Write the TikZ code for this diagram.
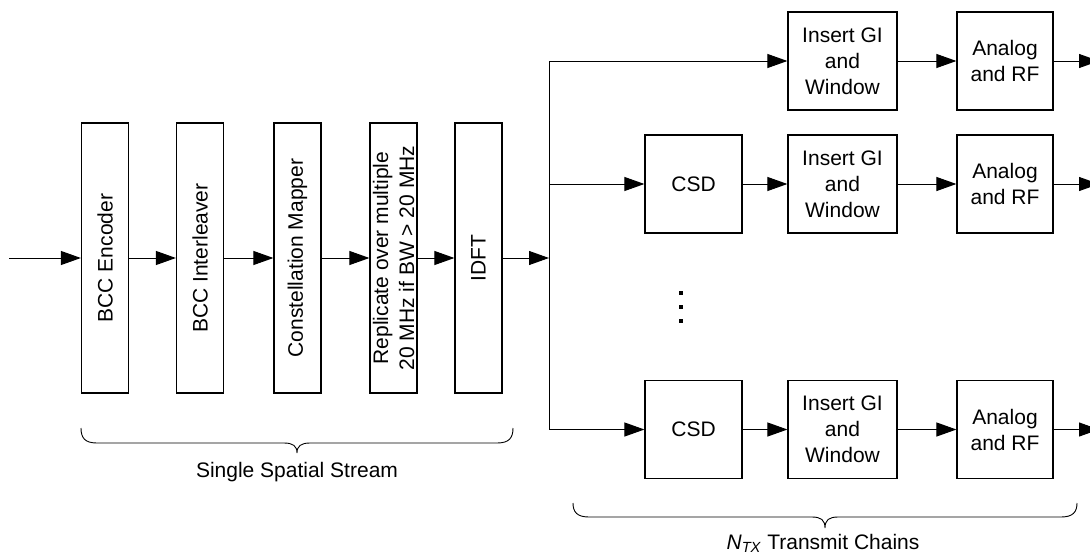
\documentclass[tikz,border=0pt]{standalone}
\usepackage{fontspec}
\setmainfont{Liberation Sans}
\usetikzlibrary{arrows.meta}
\begin{document}
\begin{tikzpicture}[x=1pt,y=-1pt,
  every node/.style={font=\fontsize{21}{26}\selectfont},
  box/.style={draw,line width=1.2pt,inner sep=0pt,align=center},
  vbox/.style={box,rotate=90,minimum width=270pt,minimum height=47pt},
  hbox/.style={box,minimum height=98pt},
  arr/.style={line width=1pt,-{Triangle[length=20pt,width=14pt]}},
  ln/.style={line width=1pt},
  brc/.style={line width=0.9pt}]
\useasboundingbox (0,0) rectangle (1090,555);
\clip (0,0) rectangle (1090,555);
% left chain
\node[vbox] (enc) at (105,258) {BCC Encoder};
\node[vbox] (inter) at (200,258) {BCC Interleaver};
\node[vbox] (const) at (297.5,258) {Constellation Mapper};
\node[vbox] (repl) at (393.5,258) {Replicate over multiple\\20 MHz if BW > 20 MHz};
\node[vbox] (idft) at (478.5,258) {IDFT};
\coordinate (in) at (9,258);
\coordinate (split) at (549,258);
\draw[arr] (in) -- (enc);
\draw[arr] (enc) -- (inter);
\draw[arr] (inter) -- (const);
\draw[arr] (const) -- (repl);
\draw[arr] (repl) -- (idft);
\draw[arr] (idft) -- (split);
% right chains
\node[hbox,minimum width=109pt] (ig1) at (842.5,61) {Insert GI\\and\\Window};
\node[hbox,minimum width=96pt] (an1) at (1005,61) {Analog\\and RF};
\node[hbox,minimum width=97pt] (csd2) at (693.5,184) {CSD};
\node[hbox,minimum width=109pt] (ig2) at (842.5,184) {Insert GI\\and\\Window};
\node[hbox,minimum width=96pt] (an2) at (1005,184) {Analog\\and RF};
\node[hbox,minimum width=97pt] (csd3) at (693.5,429.5) {CSD};
\node[hbox,minimum width=109pt] (ig3) at (842.5,429.5) {Insert GI\\and\\Window};
\node[hbox,minimum width=96pt] (an3) at (1005,429.5) {Analog\\and RF};
\coordinate (t1) at (549,61);
\coordinate (t2) at (549,184);
\coordinate (t3) at (549,429.5);
\coordinate (o1) at (1099,61);
\coordinate (o2) at (1099,184);
\coordinate (o3) at (1099,429.5);
\draw[ln] (t1) -- (t3);
\draw[arr] (t1) -- (ig1);
\draw[arr] (ig1) -- (an1);
\draw[arr] (an1) -- (o1);
\draw[arr] (t2) -- (csd2);
\draw[arr] (csd2) -- (ig2);
\draw[arr] (ig2) -- (an2);
\draw[arr] (an2) -- (o2);
\draw[arr] (t3) -- (csd3);
\draw[arr] (csd3) -- (ig3);
\draw[arr] (ig3) -- (an3);
\draw[arr] (an3) -- (o3);
% dots
\foreach \yy in {293,307,321}
  \fill (678.7,\yy-2.3) rectangle (683.3,\yy+2.3);
% braces
\draw[brc] (81,428) .. controls (81,438) and (85,443) .. (97,443) -- (284,443)
  .. controls (293,443) and (297,446) .. (297,453)
  .. controls (297,446) and (301,443) .. (310,443) -- (497,443)
  .. controls (509,443) and (513,438) .. (513,428);
\node[anchor=base] (sss) at (297,477) {Single Spatial Stream};
\draw[brc] (573,503) .. controls (573,512) and (577,517) .. (589,517) -- (812,517)
  .. controls (821,517) and (825,520) .. (825,528)
  .. controls (825,520) and (829,517) .. (838,517) -- (1061,517)
  .. controls (1073,517) and (1077,512) .. (1077,503);
\node[anchor=base] (ntx) at (823,549) {\textit{N}\textsubscript{\textit{TX}} Transmit Chains};
\end{tikzpicture}
\end{document}
